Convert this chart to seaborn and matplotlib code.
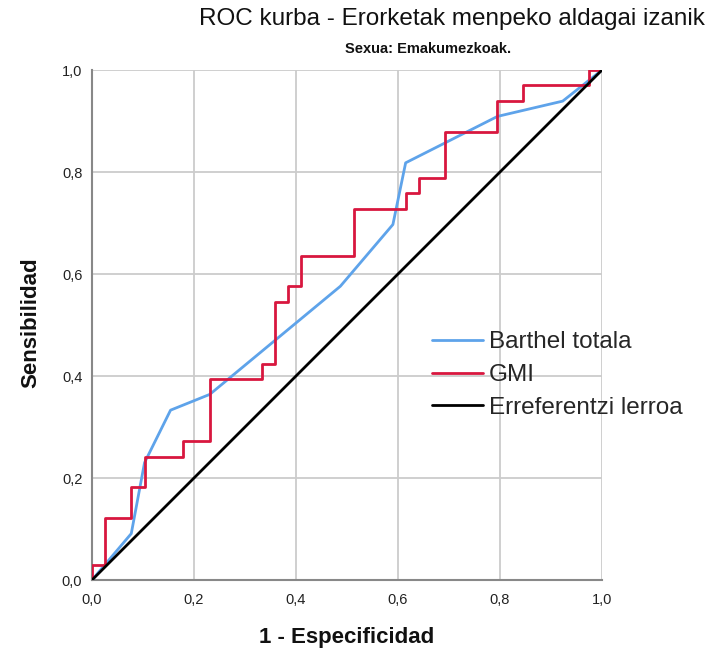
import matplotlib
matplotlib.use("Agg")
import matplotlib.pyplot as plt
import seaborn as sns
import pandas as pd

# ---- data ----
barthel_fpr = [0.0, 0.077, 0.103, 0.154, 0.231, 0.487, 0.590, 0.615, 0.795, 0.923, 1.0]
barthel_tpr = [0.0, 0.091, 0.230, 0.333, 0.364, 0.576, 0.697, 0.818, 0.909, 0.939, 1.0]

gmi_fpr = [0.0, 0.026, 0.077, 0.103, 0.179, 0.231, 0.333, 0.359, 0.385, 0.410,
           0.513, 0.615, 0.641, 0.692, 0.795, 0.846, 0.974, 1.0]
gmi_tpr = [0.0, 0.030, 0.121, 0.182, 0.242, 0.273, 0.394, 0.424, 0.545, 0.576,
           0.636, 0.727, 0.758, 0.788, 0.879, 0.939, 0.970, 1.0]

ref_x = [0.0, 1.0]
ref_y = [0.0, 1.0]

tick_vals = [0.0, 0.2, 0.4, 0.6, 0.8, 1.0]
tick_labels = ["0,0", "0,2", "0,4", "0,6", "0,8", "1,0"]

series_names = ["Barthel totala", "GMI", "Erreferentzi lerroa"]
colors = ["#5ea3ea", "#d8173f", "#000000"]

title = "ROC kurba - Erorketak menpeko aldagai izanik"
subtitle = "Sexua: Emakumezkoak."
xlabel = "1 - Especificidad"
ylabel = "Sensibilidad"

# ---- style ----
sns.set_theme(style="white")
plt.rcParams["font.family"] = ["Liberation Sans", "DejaVu Sans"]

fig = plt.figure(figsize=(7.17, 6.54), dpi=100)
ax = fig.add_axes([92 / 717, 1 - 580 / 654, 510 / 717, 510 / 654])

df_b = pd.DataFrame({"x": barthel_fpr, "y": barthel_tpr})
df_g = pd.DataFrame({"x": gmi_fpr, "y": gmi_tpr})
df_r = pd.DataFrame({"x": ref_x, "y": ref_y})

sns.lineplot(data=df_b, x="x", y="y", ax=ax, color=colors[0], lw=2.0,
             sort=False, estimator=None, label=series_names[0], zorder=3)
sns.lineplot(data=df_g, x="x", y="y", ax=ax, color=colors[1], lw=2.0,
             sort=False, estimator=None, drawstyle="steps-pre",
             label=series_names[1], zorder=4)
sns.lineplot(data=df_r, x="x", y="y", ax=ax, color=colors[2], lw=2.0,
             sort=False, estimator=None, label=series_names[2], zorder=5)

ax.set_xlim(0, 1)
ax.set_ylim(0, 1)
ax.set_xticks(tick_vals)
ax.set_yticks(tick_vals)
ax.set_xticklabels(tick_labels, fontsize=10.5, color="#222222")
ax.set_yticklabels(tick_labels, fontsize=10.5, color="#222222")
ax.tick_params(axis="both", length=0)
ax.tick_params(axis="x", pad=9)
ax.tick_params(axis="y", pad=7)

ax.grid(True, color="#cccccc", lw=1.3)
ax.set_axisbelow(True)
for s in ["top", "right"]:
    ax.spines[s].set_visible(False)
for s in ["left", "bottom"]:
    ax.spines[s].set_color("#888888")
    ax.spines[s].set_linewidth(1.5)

ax.set_xlabel("")
ax.set_ylabel("")

fig.text(347 / 717, 1 - 637 / 654, xlabel, ha="center", va="center",
         fontsize=16, fontweight="bold", color="#111111")
fig.text(31 / 717, 1 - 323 / 654, ylabel, ha="center", va="center",
         rotation=90, fontsize=16, fontweight="bold", color="#111111")
fig.text(452 / 717, 1 - 19 / 654, title, ha="center", va="center",
         fontsize=17.5, color="#111111")
fig.text(428 / 717, 1 - 49 / 654, subtitle, ha="center", va="center",
         fontsize=10.5, fontweight="bold", color="#111111")

handles, labels = ax.get_legend_handles_labels()
ax.get_legend().remove()
fig.legend(handles, labels, loc="center left",
           bbox_to_anchor=(432 / 717, 1 - 375 / 654),
           frameon=False, fontsize=17.5, borderpad=0, borderaxespad=0,
           handlelength=2.1, handletextpad=0.25, labelspacing=0.45)

fig.savefig("out.png", dpi=100)
